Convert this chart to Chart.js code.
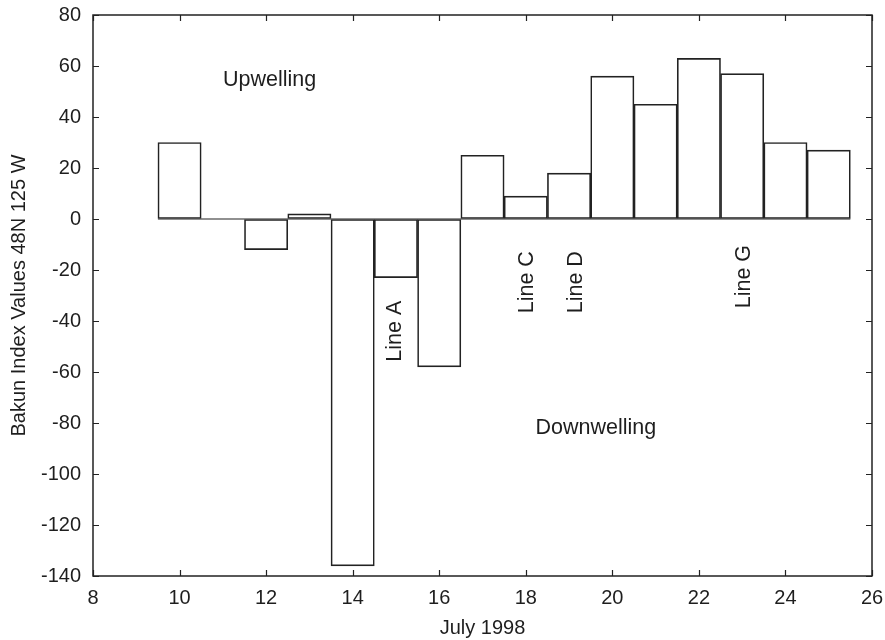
<!DOCTYPE html>
<html>
<head>
<meta charset="utf-8">
<script src="https://cdn.jsdelivr.net/npm/chart.js@4/dist/chart.umd.min.js"></script>
<style>
  html, body { margin: 0; padding: 0; background: #fff; }
  #wrap { width: 885px; height: 640px; }
</style>
</head>
<body>
<div id="wrap"><canvas id="c" width="885" height="640"></canvas></div>
<script>
// Data
const days = [10, 11, 12, 13, 14, 15, 16, 17, 18, 19, 20, 21, 22, 23, 24, 25];
const bakun = [30, 0, -12, 2, -136, -23, -58, 25, 9, 18, 56, 45, 63, 57, 30, 27];
const xTicks = [8, 10, 12, 14, 16, 18, 20, 22, 24, 26];
const yTicks = [-140, -120, -100, -80, -60, -40, -20, 0, 20, 40, 60, 80];
const labelTexts = ['Upwelling', 'Downwelling', 'Line A', 'Line C', 'Line D', 'Line G'];
const labelX = [12.08, 19.62, 14.98, 18.03, 19.16, 23.04];
const labelY = [54.3, -81.9, -44, -24.8, -24.8, -22.6];
const labelRot = [0, 0, -90, -90, -90, -90];

const INK = '#222';
const TXT = '#1e1e1e';
const FONT = 'Liberation Sans, Arial, Helvetica, sans-serif';

const barData = days.map((d, i) => ({ x: d, y: bakun[i] }));
const baseLine = [{ x: days[0] - 0.5, y: 0 }, { x: days[days.length - 1] + 0.5, y: 0 }];

function noOverflow(scale) {
  scale.paddingTop = 0; scale.paddingBottom = 0;
  scale.paddingLeft = 0; scale.paddingRight = 0;
}

const framePlugin = {
  id: 'frameTicks',
  afterDatasetsDraw(chart) {
    const { ctx, chartArea: a, scales: { x, y } } = chart;
    ctx.save();
    ctx.strokeStyle = INK;
    ctx.lineWidth = 1.5;
    ctx.strokeRect(a.left, a.top, a.right - a.left, a.bottom - a.top);
    ctx.lineWidth = 1.2;
    const tl = 6;
    ctx.beginPath();
    xTicks.forEach(v => {
      const px = Math.round(x.getPixelForValue(v)) + 0.5;
      ctx.moveTo(px, a.bottom); ctx.lineTo(px, a.bottom - tl);
      ctx.moveTo(px, a.top); ctx.lineTo(px, a.top + tl);
    });
    yTicks.forEach(v => {
      const py = Math.round(y.getPixelForValue(v)) + 0.5;
      ctx.moveTo(a.left, py); ctx.lineTo(a.left + tl, py);
      ctx.moveTo(a.right, py); ctx.lineTo(a.right - tl, py);
    });
    ctx.stroke();
    // text labels
    ctx.fillStyle = TXT;
    ctx.font = '21.5px ' + FONT;
    ctx.textAlign = 'center';
    ctx.textBaseline = 'middle';
    labelTexts.forEach((t, i) => {
      const px = x.getPixelForValue(labelX[i]);
      const py = y.getPixelForValue(labelY[i]);
      ctx.save();
      ctx.translate(px, py);
      ctx.rotate(labelRot[i] * Math.PI / 180);
      ctx.fillText(t, 0, 0);
      ctx.restore();
    });
    ctx.restore();
  }
};

new Chart(document.getElementById('c'), {
  type: 'bar',
  data: {
    datasets: [
      {
        type: 'bar',
        data: barData,
        backgroundColor: 'rgba(255,255,255,0)',
        borderColor: INK,
        borderWidth: 1,
        borderSkipped: false,
        barPercentage: 1,
        categoryPercentage: 1
      },
      {
        type: 'line',
        data: baseLine,
        borderColor: INK,
        borderWidth: 1.2,
        pointRadius: 0,
        fill: false
      }
    ]
  },
  plugins: [framePlugin],
  options: {
    responsive: false,
    animation: false,
    devicePixelRatio: 1,
    layout: { padding: { top: 15, right: 13, left: 0, bottom: 0 } },
    plugins: { legend: { display: false }, tooltip: { enabled: false } },
    scales: {
      x: {
        type: 'linear',
        offset: false,
        min: 8, max: 26,
        afterBuildTicks(scale) { scale.ticks = xTicks.map(v => ({ value: v })); },
        afterFit(scale) { scale.height = 64; noOverflow(scale); },
        grid: { drawOnChartArea: false, drawTicks: false, offset: false },
        border: { display: false },
        ticks: { color: TXT, font: { family: FONT, size: 20 }, padding: 10, maxRotation: 0 },
        title: { display: true, text: 'July 1998', color: TXT, font: { family: FONT, size: 20 }, padding: { top: 0, bottom: 0 } }
      },
      y: {
        type: 'linear',
        min: -140, max: 80,
        afterBuildTicks(scale) { scale.ticks = yTicks.map(v => ({ value: v })); },
        afterFit(scale) { scale.width = 93; noOverflow(scale); },
        grid: { drawOnChartArea: false, drawTicks: false },
        border: { display: false },
        ticks: { color: TXT, font: { family: FONT, size: 20 }, padding: 12 },
        title: { display: true, text: 'Bakun Index Values 48N 125 W', color: TXT, font: { family: FONT, size: 20 }, padding: { top: 7, bottom: 0 } }
      }
    }
  }
});
</script>
</body>
</html>
